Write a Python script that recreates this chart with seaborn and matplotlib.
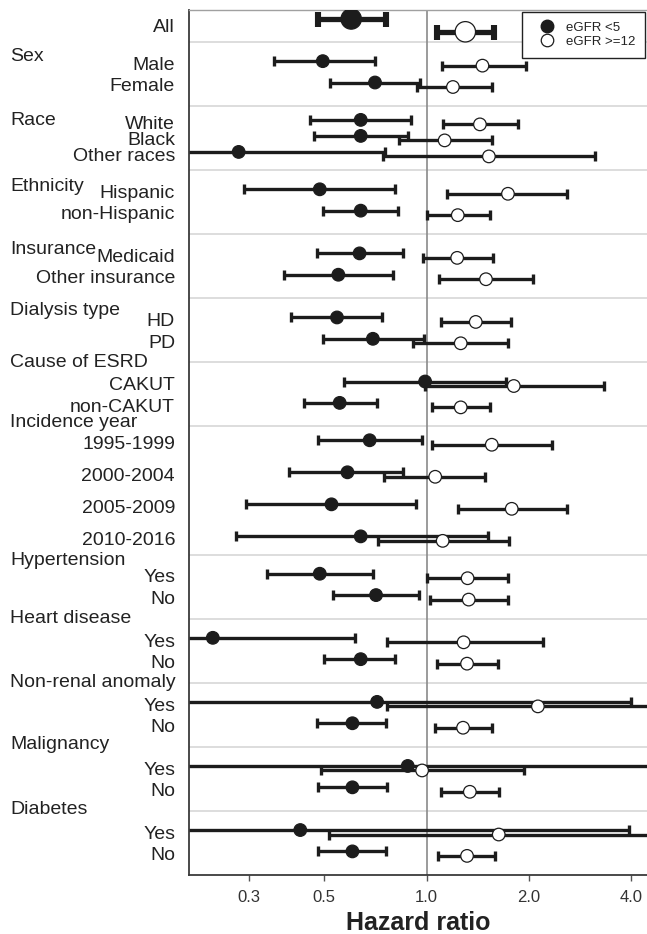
import matplotlib
matplotlib.use("Agg")
import matplotlib.pyplot as plt
import matplotlib.transforms as mtransforms
from matplotlib.lines import Line2D
from matplotlib.ticker import FixedLocator, FixedFormatter, NullLocator
import pandas as pd
import seaborn as sns

# ---- data -------------------------------------------------------------
groups = ["", "Sex", "Race", "Ethnicity", "Insurance", "Dialysis type",
          "Cause of ESRD", "Incidence year", "Hypertension", "Heart disease",
          "Non-renal anomaly", "Malignancy", "Diabetes"]
group_sizes = [1, 2, 3, 2, 2, 2, 2, 4, 2, 2, 2, 2, 2]

row_labels = ["All", "Male", "Female", "White", "Black", "Other races",
              "Hispanic", "non-Hispanic", "Medicaid", "Other insurance",
              "HD", "PD", "CAKUT", "non-CAKUT",
              "1995-1999", "2000-2004", "2005-2009", "2010-2016",
              "Yes", "No", "Yes", "No", "Yes", "No", "Yes", "No", "Yes", "No"]

# eGFR <5 at dialysis initiation
hr_lt5 = [0.60, 0.495, 0.705, 0.64, 0.64, 0.28, 0.485, 0.64, 0.635, 0.55,
          0.545, 0.695, 0.99, 0.555, 0.68, 0.585, 0.525, 0.64,
          0.485, 0.71, 0.235, 0.64, 0.715, 0.605, 0.88, 0.605, 0.425, 0.605]
lo_lt5 = [0.48, 0.355, 0.52, 0.455, 0.465, 0.104, 0.29, 0.495, 0.475, 0.38,
          0.40, 0.495, 0.57, 0.435, 0.48, 0.395, 0.295, 0.275,
          0.34, 0.53, 0.09, 0.50, 0.128, 0.475, 0.10, 0.48, 0.046, 0.48]
hi_lt5 = [0.76, 0.705, 0.955, 0.90, 0.88, 0.755, 0.81, 0.825, 0.85, 0.795,
          0.74, 0.98, 1.71, 0.715, 0.97, 0.85, 0.93, 1.515,
          0.695, 0.95, 0.615, 0.81, 3.98, 0.76, 7.7, 0.765, 3.94, 0.76]

# eGFR >=12 at dialysis initiation
hr_ge12 = [1.30, 1.46, 1.195, 1.435, 1.13, 1.525, 1.735, 1.235, 1.23, 1.495,
           1.395, 1.26, 1.805, 1.26, 1.555, 1.06, 1.78, 1.115,
           1.32, 1.33, 1.285, 1.315, 2.125, 1.28, 0.97, 1.34, 1.63, 1.315]
lo_ge12 = [1.07, 1.11, 0.935, 1.12, 0.83, 0.745, 1.145, 1.00, 0.975, 1.085,
           1.10, 0.91, 0.99, 1.035, 1.035, 0.75, 1.235, 0.72,
           1.00, 1.025, 0.765, 1.07, 0.765, 1.06, 0.49, 1.10, 0.515, 1.08]
hi_ge12 = [1.58, 1.96, 1.555, 1.855, 1.555, 3.13, 2.59, 1.535, 1.565, 2.055,
           1.77, 1.735, 3.325, 1.535, 2.335, 1.485, 2.59, 1.745,
           1.735, 1.735, 2.20, 1.62, 5.9, 1.555, 1.935, 1.63, 5.16, 1.585]

series_names = ["eGFR <5", "eGFR >=12"]
x_ticks = [0.3, 0.5, 1.0, 2.0, 4.0]
x_tick_labels = ["0.3", "0.5", "1.0", "2.0", "4.0"]

# ---- layout of the rows -------------------------------------------------
INK = "#1c1c1c"
header_offsets = [0.0, 0.44, 0.44, 0.5, 0.47, 0.38, 0.0, -0.12, 0.19,
                  0.0, 0.0, -0.06, -0.03]

row_y, row_group, group_top = [], [], []
top = 0.0
for gi, n in enumerate(group_sizes):
    if n == 1:
        h, offs = 1.0, [0.48]
    elif n == 4:
        h, offs = 4.0, [0.5 + k for k in range(n)]
    else:
        h = 2.0
        offs = [h * (k + 1) / (n + 1) for k in range(n)]
    group_top.append(top)
    row_y.extend(top + o for o in offs)
    row_group.extend([gi] * n)
    top += h
y_total = top

records = []
for s, (hr, lo, hi) in enumerate([(hr_lt5, lo_lt5, hi_lt5),
                                  (hr_ge12, lo_ge12, hi_ge12)]):
    for i in range(len(row_labels)):
        big = row_group[i] == 0
        shift = (0.2 if big else 0.07) * (1 if s else -1)
        records.append(dict(series=series_names[s], label=row_labels[i],
                            y=row_y[i] + shift, hr=hr[i], lo=lo[i], hi=hi[i],
                            big=big))
df = pd.DataFrame(records)

# ---- figure -------------------------------------------------------------
sns.set_theme(style="white")
plt.rcParams["font.family"] = ["Liberation Sans", "DejaVu Sans"]

W, H = 647, 934
fig = plt.figure(figsize=(W / 100, H / 100), dpi=100)
ax = fig.add_axes([189 / W, 1 - 875 / H, 1 - 189 / W, (875 - 10) / H])

ax.set_xscale("log")
ax.set_xlim(0.2, 4.45)
ax.set_ylim(y_total, 0)

for t in group_top[1:]:
    ax.axhline(t, color="#dadada", lw=1.3, zorder=0)
ax.axvline(1.0, color="#8a8a8a", lw=1.2, zorder=0.5)

# confidence intervals
for _, r in df.iterrows():
    lw, cap, capw = (3.8, 5.4, 4.4) if r.big else (2.4, 3.3, 2.4)
    ax.errorbar([r.hr], [r.y], xerr=[[r.hr - r.lo], [r.hi - r.hr]],
                fmt="none", ecolor=INK, elinewidth=lw, capsize=cap,
                capthick=capw, zorder=2)

# point estimates
sns.scatterplot(data=df, x="hr", y="y", hue="series",
                palette={series_names[0]: INK, series_names[1]: "white"},
                size="big", sizes={True: 215, False: 82},
                edgecolor=INK, linewidth=0.9, legend=False, zorder=3, ax=ax)
ax.set_xlabel("")
ax.set_ylabel("")

# axes styling
ax.xaxis.set_major_locator(FixedLocator(x_ticks))
ax.xaxis.set_major_formatter(FixedFormatter(x_tick_labels))
ax.xaxis.set_minor_locator(NullLocator())
ax.tick_params(axis="x", bottom=True, length=4, width=1, color="#555555",
               labelsize=12, labelcolor="#333333", pad=7)

ax.set_yticks(row_y)
ax.set_yticklabels(row_labels)
ax.tick_params(axis="y", left=False, length=0, labelsize=14,
               labelcolor="#222222", pad=10)

for side in ("left", "bottom"):
    ax.spines[side].set_color("#3a3a3a")
    ax.spines[side].set_linewidth(1.3)
ax.spines["top"].set_color("#a0a0a0")
ax.spines["top"].set_linewidth(1.0)
ax.spines["right"].set_visible(False)

ax.set_xlabel("Hazard ratio", fontsize=18, fontweight="bold", color="#222222")
ax.xaxis.label.set_va("center")
ax.xaxis.set_label_coords(0.5, -0.0555)

# group headings at the far left
trans = mtransforms.blended_transform_factory(fig.transFigure, ax.transData)
for name, t, off in zip(groups, group_top, header_offsets):
    if name:
        ax.text(10 / W, t + off, name, transform=trans, ha="left",
                va="center", fontsize=14, color="#222222")

handles = [
    Line2D([], [], ls="none", marker="o", markersize=9, markerfacecolor=INK,
           markeredgecolor=INK, label=series_names[0]),
    Line2D([], [], ls="none", marker="o", markersize=9,
           markerfacecolor="white", markeredgecolor=INK, markeredgewidth=0.9,
           label=series_names[1]),
]
leg = ax.legend(handles=handles, loc="upper right", bbox_to_anchor=(1.0, 1.0),
                borderaxespad=0.15, fontsize=9.5, frameon=True, fancybox=False,
                edgecolor="#222222", framealpha=1, labelspacing=0.1,
                handletextpad=0.3, borderpad=0.75, handlelength=2.3)
leg.get_frame().set_linewidth(1.0)
for txt in leg.get_texts():
    txt.set_color("#222222")

fig.savefig("out.png", dpi=100)
